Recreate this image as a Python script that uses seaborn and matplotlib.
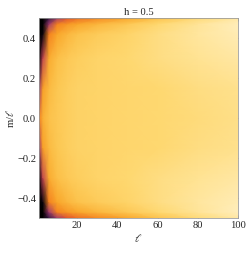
import numpy as np
import matplotlib
matplotlib.use("Agg")
import matplotlib.pyplot as plt
import seaborn as sns

# ---- data ----
ell = [1, 3, 6, 10, 15, 20, 30, 45, 60, 80, 100]
m_over_ell = [-0.5, -0.47, -0.42, -0.3, -0.15, 0.0, 0.15, 0.3, 0.42, 0.47, 0.5]
row_m050 = [0.00, 0.00, 0.12, 0.30, 0.40, 0.46, 0.52, 0.60, 0.70, 0.81, 0.89]
row_m047 = [0.00, 0.00, 0.30, 0.50, 0.56, 0.60, 0.66, 0.73, 0.80, 0.87, 0.93]
row_m042 = [0.00, 0.02, 0.50, 0.60, 0.66, 0.70, 0.74, 0.78, 0.83, 0.88, 0.92]
row_m030 = [0.02, 0.35, 0.62, 0.69, 0.73, 0.75, 0.78, 0.80, 0.83, 0.86, 0.89]
row_m015 = [0.30, 0.58, 0.67, 0.72, 0.75, 0.77, 0.78, 0.79, 0.80, 0.83, 0.85]
row_0 = [0.50, 0.64, 0.70, 0.73, 0.75, 0.77, 0.78, 0.79, 0.80, 0.82, 0.84]
rows = [row_m050, row_m047, row_m042, row_m030, row_m015, row_0,
        row_m015, row_m030, row_m042, row_m047, row_m050]
x_ticks = [20, 40, 60, 80, 100]
y_ticks = [-0.4, -0.2, 0.0, 0.2, 0.4]
title = "h = 0.5"

sns.set_style("ticks")
plt.rcParams['font.family'] = ['Liberation Serif', 'DejaVu Serif']
plt.rcParams['mathtext.fontset'] = 'stix'

cmap = sns.blend_palette(["#000000", "#2a1438", "#5e2f84", "#a03a70", "#e0502e",
                          "#f4801e", "#f9a62a", "#fcc24a", "#fed870", "#ffe9a8",
                          "#fff8e0"], as_cmap=True)

fig = plt.figure(figsize=(249 / 72, 254 / 72), dpi=72)
ax = fig.add_axes([39 / 249, 1 - 218 / 254, 199 / 249, 200 / 254])
L, M = np.meshgrid(ell, m_over_ell)
Z = np.array(rows)
ax.pcolormesh(L, M, Z, shading='gouraud', cmap=cmap, vmin=0, vmax=1)
ax.set_xlim(1, 100)
ax.set_ylim(-0.5, 0.5)
ax.set_xticks(x_ticks)
ax.set_yticks(y_ticks)
ax.set_yticklabels([f"{v:.1f}".replace("-", "\u2212") for v in y_ticks])
ax.tick_params(direction='in', length=3, width=0.6, color='#999999',
               labelsize=10.5, pad=3, top=True, right=True,
               labeltop=False, labelright=False)
for s in ax.spines.values():
    s.set_color('#999999')
    s.set_linewidth(0.8)
ax.set_title(title, fontsize=10.5, pad=3)
ax.set_xlabel(r"$\ell$", fontsize=11, labelpad=2)
ax.set_ylabel(r"m/$\ell$", fontsize=10.5, labelpad=1)
fig.savefig("out.png", dpi=72)
